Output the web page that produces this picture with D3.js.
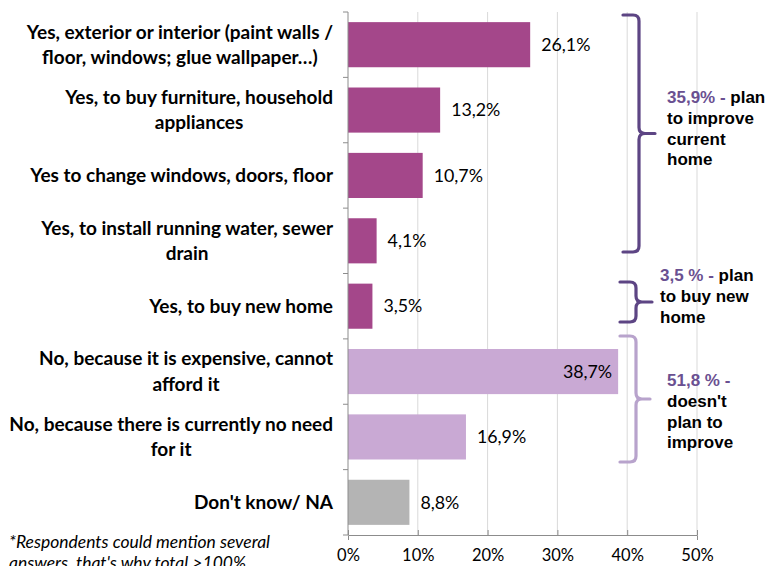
<!DOCTYPE html>
<html>
<head>
<meta charset="utf-8">
<script src="https://cdn.jsdelivr.net/npm/d3@7"></script>
<style>
  html, body { margin: 0; padding: 0; background: #fff; }
  svg { display: block; }
</style>
</head>
<body>
<svg id="chart" width="772" height="566"></svg>
<script>
// Answer categories (each entry is a list of label lines)
const categories = [
  ["Yes, exterior or interior (paint walls /", "floor, windows; glue wallpaper…)"],
  ["Yes, to buy furniture, household", "appliances"],
  ["Yes to change windows, doors, floor"],
  ["Yes, to install running water, sewer", "drain"],
  ["Yes, to buy new home"],
  ["No, because it is expensive, cannot", "afford it"],
  ["No, because there is currently no need", "for it"],
  ["Don't know/ NA"]
];
const values = [26.1, 13.2, 10.7, 4.1, 3.5, 38.7, 16.9, 8.8];
const valueLabels = ["26,1%", "13,2%", "10,7%", "4,1%", "3,5%", "38,7%", "16,9%", "8,8%"];
const groups = ["improve", "improve", "improve", "improve", "buy", "no", "no", "unknown"];
const xTicks = [0, 10, 20, 30, 40, 50];

// Summary brackets: first and last category index covered
const bracketStart = [0, 4, 5];
const bracketEnd = [3, 4, 6];
const bracketHead = ["35,9% - ", "3,5 % - ", "51,8 % -"];
const bracketText = [
  ["plan", "to improve", "current", "home"],
  ["plan", "to buy new", "home"],
  ["", "doesn't", "plan to", "improve"]
];

const groupColor = { improve: "#a4478a", buy: "#a4478a", no: "#c9a9d4", unknown: "#b4b4b4" };
const bracketColor = ["#5d4584", "#5d4584", "#b8a3cc"];

const svg = d3.select("#chart");
const plotLeft = 348, plotRight = 697, plotTop = 12, plotBottom = 535;
const uiFont = "Lato, 'Open Sans', sans-serif";

const x = d3.scaleLinear().domain([0, 50]).range([plotLeft, plotRight]);
const y = d3.scaleBand().domain(d3.range(categories.length)).range([plotTop, plotBottom]).paddingInner(0.31).paddingOuter(0.155);

// Vertical gridlines
svg.append("g").selectAll("line").data(xTicks.slice(1)).join("line")
  .attr("x1", d => x(d)).attr("x2", d => x(d))
  .attr("y1", plotTop).attr("y2", plotBottom)
  .attr("stroke", "#d9d9d9").attr("stroke-width", 1);

// Bars
svg.append("g").selectAll("rect").data(values).join("rect")
  .attr("x", x(0))
  .attr("y", (d, i) => y(i))
  .attr("width", d => x(d) - x(0))
  .attr("height", y.bandwidth())
  .attr("fill", (d, i) => groupColor[groups[i]]);

// Axes
const xAxis = svg.append("g")
  .attr("transform", `translate(0,${plotBottom})`)
  .call(d3.axisBottom(x).tickValues(xTicks).tickFormat(d => d + "%").tickSize(5).tickPadding(9));
xAxis.select(".domain").attr("stroke", "#8c8c8c");
xAxis.selectAll(".tick line").attr("stroke", "#8c8c8c").attr("transform", "translate(0,-5)");
xAxis.selectAll("text").attr("font-family", uiFont).attr("font-size", 16.5).attr("fill", "#000");

// Category axis line with ticks at band boundaries
const bandStep = (plotBottom - plotTop) / categories.length;
svg.append("line").attr("x1", plotLeft).attr("x2", plotLeft).attr("y1", plotTop).attr("y2", plotBottom)
  .attr("stroke", "#8c8c8c");
svg.append("g").selectAll("line").data(d3.range(categories.length + 1)).join("line")
  .attr("x1", plotLeft - 5).attr("x2", plotLeft)
  .attr("y1", i => plotTop + i * bandStep).attr("y2", i => plotTop + i * bandStep)
  .attr("stroke", "#8c8c8c");

// Category labels: block right-aligned, lines centred within the block
const labelRight = 333, lineGap = 25.5;
categories.forEach((lines, i) => {
  const g = svg.append("g");
  const cy = y(i) + y.bandwidth() / 2;
  const texts = lines.map((t, k) => g.append("text")
    .attr("y", cy + (k - (lines.length - 1) / 2) * lineGap)
    .attr("dy", "0.35em")
    .attr("font-family", uiFont)
    .attr("font-weight", "bold").attr("font-size", 19)
    .attr("text-anchor", "middle")
    .text(t));
  const w = d3.max(texts, t => t.node().getComputedTextLength());
  texts.forEach(t => t.attr("x", labelRight - w / 2));
});

// Value labels
svg.append("g").selectAll("text").data(values).join("text")
  .attr("x", (d, i) => d > 35 ? x(d) - 6 : x(d) + 11)
  .attr("y", (d, i) => y(i) + y.bandwidth() / 2)
  .attr("dy", "0.35em")
  .attr("text-anchor", d => d > 35 ? "end" : "start")
  .attr("font-family", uiFont).attr("font-size", 17.8)
  .attr("fill", "#000")
  .text((d, i) => valueLabels[i]);

// Curly brackets
function bracePath(y0, y1, x0, w, tip) {
  const ym = (y0 + y1) / 2, xr = x0 + w, r = 6;
  return `M${x0},${y0} L${xr - r},${y0} Q${xr},${y0} ${xr},${y0 + r}` +
    ` L${xr},${ym - r} Q${xr},${ym} ${xr + r},${ym} L${xr + tip},${ym}` +
    ` M${xr + r},${ym} Q${xr},${ym} ${xr},${ym + r}` +
    ` L${xr},${y1 - r} Q${xr},${y1} ${xr - r},${y1} L${x0},${y1}`;
}
const braceTop = [15, 282, 336];
const braceBottom = [252, 322, 462];
const braceX = [623, 620, 620];
const braceW = [16, 16, 16];
const braceTip = [16, 16, 14];
bracketStart.forEach((s, i) => {
  svg.append("path")
    .attr("d", bracePath(braceTop[i], braceBottom[i], braceX[i], braceW[i], braceTip[i]))
    .attr("fill", "none").attr("stroke", bracketColor[i]).attr("stroke-width", 3.2)
    .attr("stroke-linecap", "round").attr("stroke-linejoin", "round");
});

// Bracket notes
const noteX = [667, 660, 667];
const noteY = [97, 275, 380];
bracketText.forEach((lines, i) => {
  const t = svg.append("text")
    .attr("font-family", "'Liberation Sans', Arial, sans-serif")
    .attr("font-weight", "bold").attr("font-size", 17);
  lines.forEach((line, k) => {
    const ts = t.append("tspan").attr("x", noteX[i]).attr("y", noteY[i] + k * 20.8).attr("dy", "0.35em");
    if (k === 0) ts.append("tspan").attr("fill", "#6a5091").text(bracketHead[i]);
    ts.append("tspan").attr("fill", "#000").text(line);
  });
});

// Footnote
const footnote = ["*Respondents could mention several", "answers, that's why total >100%"];
footnote.forEach((t, k) => svg.append("text")
  .attr("x", 9).attr("y", 542 + k * 21).attr("dy", "0.35em")
  .attr("font-family", uiFont).attr("font-style", "italic").attr("font-size", 17.5)
  .attr("fill", "#000").text(t));
</script>
</body>
</html>
